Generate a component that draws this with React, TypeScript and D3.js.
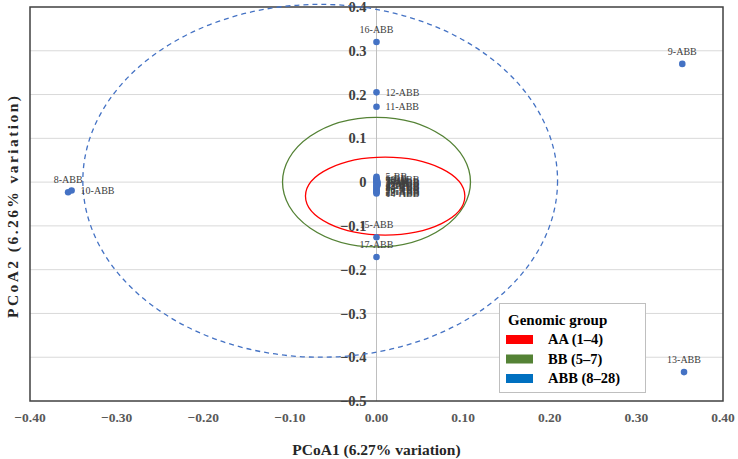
import React, { useEffect } from "react";
import * as d3 from "d3";

// ---- data ----
const pointIds = [
  "16-ABB", "12-ABB", "11-ABB", "9-ABB", "13-ABB", "8-ABB", "10-ABB", "15-ABB", "17-ABB",
  "5-BB", "6-BB", "7-BB", "3-AA", "1-AA", "2-AA", "4-AA", "18-ABB", "19-ABB", "20-ABB",
  "21-ABB", "22-ABB", "23-ABB", "24-ABB", "25-ABB", "26-ABB", "27-ABB", "28-ABB", "14-ABB",
];
const pcoa1 = [
  0.0, 0.0, 0.0, 0.353, 0.355, -0.356, -0.352, 0.0, 0.0,
  0.0, 0.0, 0.0, 0.001, 0.001, 0.001, 0.001, 0.0, 0.0, 0.0,
  0.0, 0.0, 0.0, 0.0, 0.0, 0.0, 0.0, 0.0, 0.0,
];
const pcoa2 = [
  0.32, 0.205, 0.172, 0.27, -0.434, -0.023, -0.019, -0.126, -0.171,
  0.012, 0.008, 0.004, 0.001, -0.002, -0.005, -0.008, 0.006, 0.002, -0.001,
  -0.004, -0.007, -0.01, -0.013, -0.016, -0.019, -0.021, -0.023, -0.026,
];
// label placement: "above", "right"
const labelPos = [
  "above", "right", "right", "above", "above", "above", "right", "above", "above",
  "right", "right", "right", "right", "right", "right", "right", "right", "right", "right",
  "right", "right", "right", "right", "right", "right", "right", "right", "right",
];

const xTicks = [-0.4, -0.3, -0.2, -0.1, 0.0, 0.1, 0.2, 0.3, 0.4];
const yTicks = [0.4, 0.3, 0.2, 0.1, 0.0, -0.1, -0.2, -0.3, -0.4, -0.5];

const groupNames = ["AA (1–4)", "BB (5–7)", "ABB (8–28)"];
const groupColors = ["#FF0000", "#548235", "#0070C0"];

// ellipses: cx, cy, rx, ry (data units)
const ellipseNames = ["ABB", "BB", "AA"];
const ellipseCx = [-0.065, 0.0, 0.01];
const ellipseCy = [0.003, 0.0, -0.032];
const ellipseRx = [0.274, 0.1085, 0.092];
const ellipseRy = [0.403, 0.148, 0.089];
const ellipseStroke = ["#4472C4", "#548235", "#FF0000"];

const xTitle = "PCoA1 (6.27% variation)";
const yTitle = "PCoA2 (6.26% variation)";
const legendTitle = "Genomic group";

const serif = '"Liberation Serif", "Times New Roman", "DejaVu Serif", serif';

export default function App() {
  useEffect(() => {
    document.body.style.margin = "0";
  }, []);

  const W = 738;
  const H = 459;
  const left = 30, right = 723, top = 7, bottom = 401;
  const x = d3.scaleLinear().domain([-0.4, 0.4]).range([left, right]);
  const y = d3.scaleLinear().domain([0.4, -0.5]).range([top, bottom]);
  const x0 = x(0);
  const fmtY = (t: number) => {
    const s = d3.format(".1~f")(t);
    return s === "-0" ? "0" : s;
  };

  return (
    <svg width={W} height={H} style={{ position: "absolute", left: 0, top: 0, background: "#fff", fontFamily: serif }}>
      <rect x={0} y={0} width={W} height={H} fill="#fff" />
      {/* gridlines */}
      {yTicks.filter((t) => t < 0.4 && t > -0.5).map((t) => (
        <line key={"g" + t} x1={left} x2={right} y1={y(t)} y2={y(t)} stroke="#d9d9d9" strokeWidth={1} />
      ))}
      {/* vertical axis at x=0 */}
      <line x1={x0} x2={x0} y1={top} y2={bottom} stroke="#bfbfbf" strokeWidth={1} />
      {/* y tick labels */}
      {yTicks.map((t) => (
        <text key={"yt" + t} x={x0 - 10} y={y(t)} dy="0.35em" textAnchor="end"
          style={{ fontFamily: serif }} fontWeight="bold" fontSize={14.5} fill="#404040">
          {fmtY(t)}
        </text>
      ))}
      {/* plot border */}
      <rect x={left} y={top} width={right - left} height={bottom - top} fill="none" stroke="#404040" strokeWidth={1.5} />
      {/* x tick labels */}
      {xTicks.map((t) => (
        <text key={"xt" + t} x={x(t)} y={422} textAnchor="middle"
          style={{ fontFamily: serif }} fontWeight="bold" fontSize={13.5} fill="#595959">
          {d3.format(".2f")(t)}
        </text>
      ))}
      {/* ellipses */}
      {ellipseNames.map((n, i) => (
        <ellipse key={n} cx={x(ellipseCx[i])} cy={y(ellipseCy[i])}
          rx={x(ellipseRx[i]) - x(0)} ry={y(0) - y(ellipseRy[i])}
          fill="none" stroke={ellipseStroke[i]} strokeWidth={1.3}
          strokeDasharray={n === "ABB" ? "5,4" : undefined} />
      ))}
      {/* points */}
      {pointIds.map((id, i) => (
        <circle key={"p" + id} cx={x(pcoa1[i])} cy={y(pcoa2[i])} r={3.3} fill="#4472C4" />
      ))}
      {/* labels */}
      {pointIds.map((id, i) => {
        const px = x(pcoa1[i]);
        const py = y(pcoa2[i]);
        if (labelPos[i] === "above") {
          return (
            <text key={"l" + id} x={px} y={py - 9} textAnchor="middle" style={{ fontFamily: serif }}
              fontSize={10} fill="#404040">{id}</text>
          );
        }
        return (
          <text key={"l" + id} x={px + 9} y={py} dy="0.35em" textAnchor="start" style={{ fontFamily: serif }}
            fontSize={10} fill="#404040">{id}</text>
        );
      })}
      {/* axis titles */}
      <text x={x0} y={455} textAnchor="middle" style={{ fontFamily: serif }} fontWeight="bold" fontSize={15.5} fill="#262626">
        {xTitle}
      </text>
      <text transform={`translate(18,207) rotate(-90)`} textAnchor="middle" style={{ fontFamily: serif }}
        fontWeight="bold" fontSize={15.5} fill="#262626" textLength={222} lengthAdjust="spacing">
        {yTitle}
      </text>
      {/* legend */}
      <g>
        <rect x={499.5} y={303.5} width={146} height={89} fill="#fff" stroke="#bfbfbf" strokeWidth={1} />
        <text x={508} y={325} style={{ fontFamily: serif }} fontWeight="bold" fontSize={15} fill="#000">{legendTitle}</text>
        {groupNames.map((g, i) => (
          <g key={g}>
            <rect x={506} y={335 + i * 19.5} width={27} height={9} fill={groupColors[i]} />
            <text x={548} y={344 + i * 19.5} style={{ fontFamily: serif }} fontWeight="bold" fontSize={14.5} fill="#000">{g}</text>
          </g>
        ))}
      </g>
    </svg>
  );
}
